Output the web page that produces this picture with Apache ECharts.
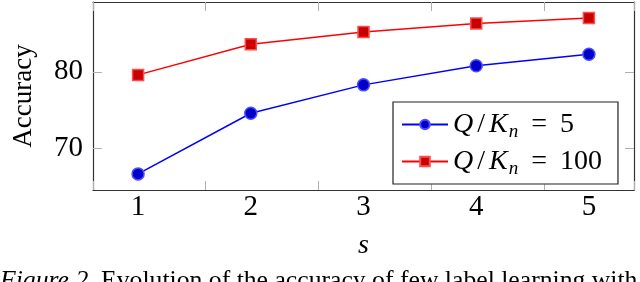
<!DOCTYPE html>
<html><head><meta charset="utf-8">
<script src="https://cdn.jsdelivr.net/npm/echarts@6/dist/echarts.min.js"></script>
<style>html,body{margin:0;padding:0;background:#fff}#c{width:640px;height:282px}</style>
</head><body><div id="c"></div>
<script>
var sValues = [1, 2, 3, 4, 5];
var accQ5 = [66.7, 74.6, 78.3, 80.8, 82.3];
var accQ100 = [79.6, 83.6, 85.2, 86.3, 87.0];
var yTicks = [70, 80];
var seriesNames = ['Q/K_n = 5', 'Q/K_n = 100'];
var caption = 'Evolution of the accuracy of few label learning with';

var FONT = 'Liberation Serif';
var chart = echarts.init(document.getElementById('c'));
function pairs(v){ return sValues.map(function(x,i){ return [x, v[i]]; }); }
var tickGray = {show:true, inside:true, length:9, lineStyle:{color:'#b0b0b0', width:1}};
chart.setOption({
  animation:false,
  grid:{left:93, right:6, top:2, bottom:92, show:false},
  xAxis:[{
    type:'value', min:0.6, max:5.4, interval:1,
    position:'bottom',
    axisLine:{show:true, onZero:false, lineStyle:{color:'#333', width:1.2}},
    axisTick:tickGray, splitLine:{show:false},
    axisLabel:{show:true, color:'#000', fontFamily:FONT, fontSize:29, margin:3,
      customValues: sValues, formatter:function(v){return String(v);} },
    name:'s', nameLocation:'middle', nameGap:42,
    nameTextStyle:{fontFamily:FONT, fontSize:28, fontStyle:'italic', color:'#000'}
  },{
    type:'value', min:0.6, max:5.4, interval:1, position:'top',
    axisLine:{show:true, onZero:false, lineStyle:{color:'#333', width:1.2}},
    axisTick:tickGray, axisLabel:{show:false}, splitLine:{show:false}
  }],
  yAxis:[{
    type:'value', min:64.6, max:89.1,
    axisLine:{show:true, onZero:false, lineStyle:{color:'#333', width:1.2}},
    axisTick:{show:true, inside:true, length:9, lineStyle:{color:'#b0b0b0'}, customValues:yTicks},
    axisLabel:{show:true, color:'#000', fontFamily:FONT, fontSize:29, margin:10, customValues:yTicks},
    splitLine:{show:false},
    name:'Accuracy', nameLocation:'middle', nameGap:56, nameRotate:90,
    nameTextStyle:{fontFamily:FONT, fontSize:27, color:'#000'}
  },{
    type:'value', min:64.6, max:89.1, position:'right',
    axisLine:{show:true, onZero:false, lineStyle:{color:'#333', width:1.2}},
    axisTick:{show:true, inside:true, length:9, lineStyle:{color:'#b0b0b0'}, customValues:yTicks},
    axisLabel:{show:false}, splitLine:{show:false}
  }],
  legend:{
    data:seriesNames, orient:'vertical', left:393, top:102,
    padding:[6,16,6,8], itemGap:4, itemWidth:46, itemHeight:12,
    backgroundColor:'#fff', borderColor:'#222', borderWidth:1.2, borderRadius:0,
    formatter:function(n){
      var p = n.split(' = ');
      return '{i|Q}{s|/}{i|K}{sub|n}{e|=}{r|' + p[1] + '}';
    },
    textStyle:{fontFamily:FONT, fontSize:28, color:'#000',
      rich:{
        i:{fontFamily:FONT, fontStyle:'italic', fontSize:28, color:'#000', lineHeight:30},
        s:{fontFamily:FONT, fontSize:28, color:'#000', lineHeight:30, padding:[0,4,0,4]},
        e:{fontFamily:FONT, fontSize:28, color:'#000', lineHeight:30, padding:[0,13,0,13]},
        r:{fontFamily:FONT, fontSize:28, color:'#000', lineHeight:30},
        sub:{fontFamily:FONT, fontStyle:'italic', fontSize:19, color:'#000', lineHeight:30, padding:[14,0,0,1]}
      }}
  },
  series:[{
    name:seriesNames[0], type:'line', data:pairs(accQ5),
    xAxisIndex:0, yAxisIndex:0,
    symbol:'circle', symbolSize:12,
    lineStyle:{color:'#0000ff', width:1.5},
    itemStyle:{color:'#0000c8', borderColor:'#4d4dff', borderWidth:1.5}
  },{
    name:seriesNames[1], type:'line', data:pairs(accQ100),
    xAxisIndex:0, yAxisIndex:0,
    symbol:'rect', symbolSize:11,
    lineStyle:{color:'#ff0000', width:1.5},
    itemStyle:{color:'#c80000', borderColor:'#ff4d4d', borderWidth:1.5}
  }],
  graphic:[{
    type:'text', left:0, top:268,
    style:{
      text:'{it|Figure 2.} ' + caption,
      font:'25.7px "Liberation Serif"', fill:'#000',
      rich:{it:{fontStyle:'italic', fontFamily:FONT, fontSize:25.7, fill:'#000'}}
    }
  }]
});
</script></body></html>
